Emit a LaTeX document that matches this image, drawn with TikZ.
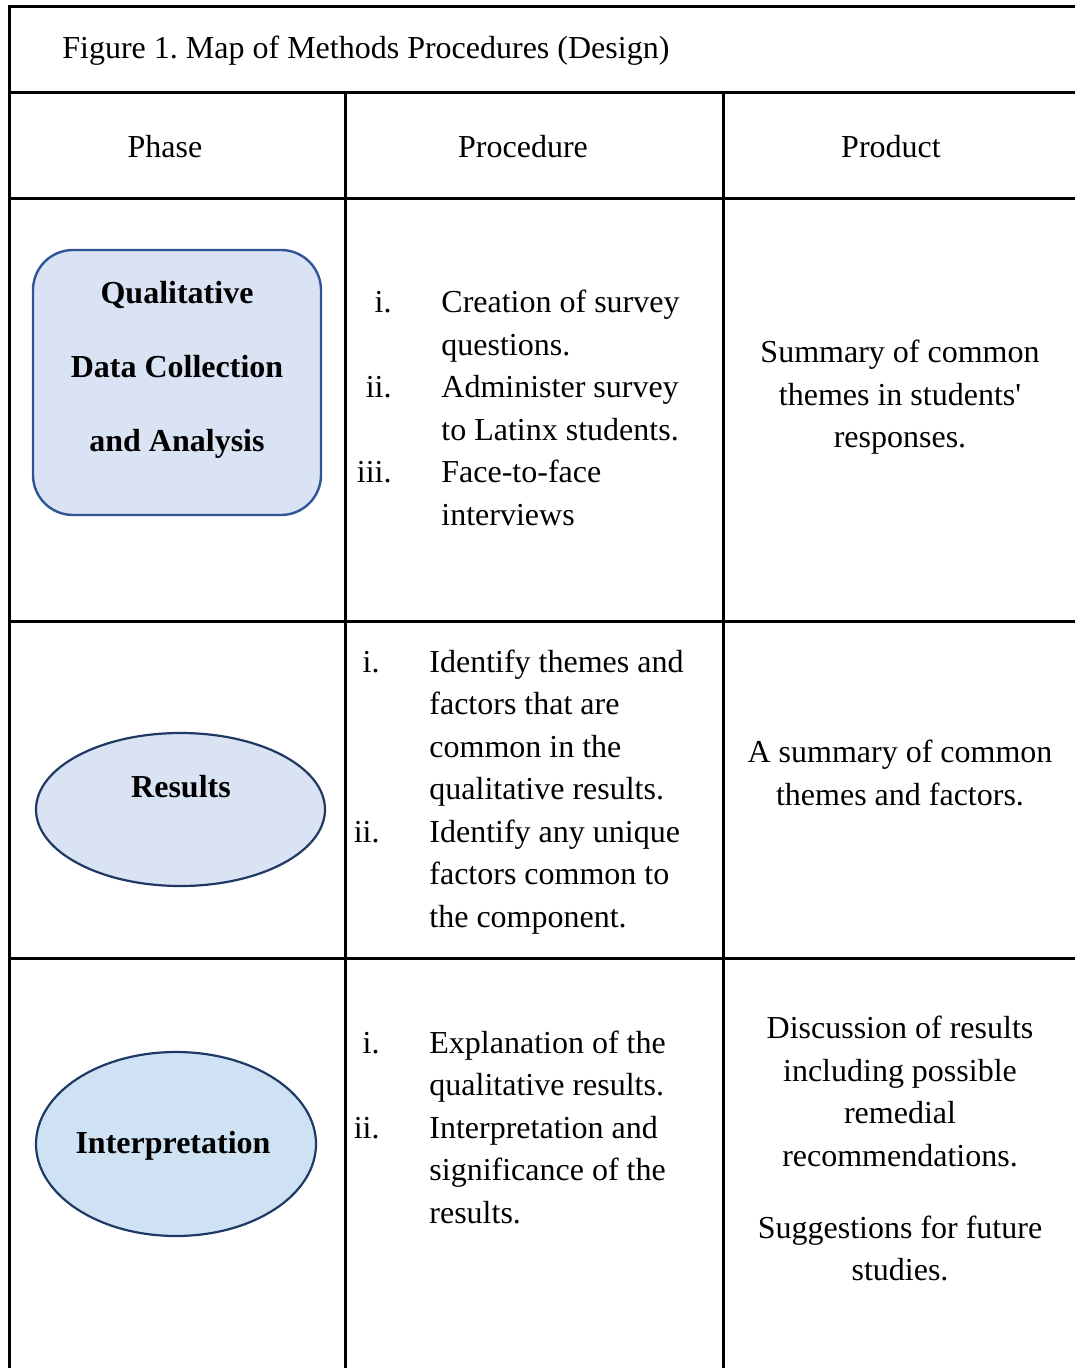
\documentclass[tikz,border=0pt]{standalone}
\usepackage{fontspec}
\setmainfont{Liberation Serif}
\usetikzlibrary{shapes.geometric}
\definecolor{phasefill}{HTML}{DAE3F3}
\definecolor{interpfill}{HTML}{CFE2F3}
\definecolor{phaseline}{HTML}{2F5597}
\definecolor{ellline}{HTML}{203864}
\frenchspacing

\begin{document}
\begin{tikzpicture}
  [x=0.5pt,y=-0.5pt,
   font=\fontsize{16}{21.25}\selectfont]
  \tikzstyle{grid_style} = [draw=black, line width=1.5pt]
  \tikzstyle{txt} = [inner sep=0, anchor=base west, align=left]
  \tikzstyle{ctxt} = [inner sep=0, anchor=base, align=center]
  \tikzstyle{num} = [inner sep=0, anchor=base east]
  \useasboundingbox (0,0) rectangle (1075,1368);
  % table rules
  \draw[grid_style] (9,1368) -- (9,7) -- (1075,7);
  \draw[grid_style] (9,93) -- (1075,93);
  \draw[grid_style] (9,199) -- (1075,199);
  \draw[grid_style] (9,621) -- (1075,621);
  \draw[grid_style] (9,958) -- (1075,958);
  \draw[grid_style] (345,93) -- (345,1368);
  \draw[grid_style] (723,93) -- (723,1368);
  % title and headers
  \node[txt] (title) at (62,58.5) {Figure 1. Map of Methods Procedures (Design)};
  \node[ctxt] (hphase) at (165,158) {Phase};
  \node[ctxt] (hproc) at (523,158) {Procedure};
  \node[ctxt] (hprod) at (891,158) {Product};
  % phase shapes (base anchor sits on the last line)
  \node[draw=phaseline, fill=phasefill, line width=1.2pt, rounded corners=20pt,
        minimum width=144pt, minimum height=132.5pt] (qual) at (177,382.5) {};
  \node[ctxt, font=\fontsize{16}{37}\selectfont\bfseries] (qualtxt) at (177,452)
    {Qualitative\\Data Collection\\and Analysis};
  \node[draw=ellline, fill=phasefill, line width=1.1pt, ellipse, inner sep=0,
        minimum width=144.5pt, minimum height=76.5pt] (res) at (180.5,809.5) {};
  \node[ctxt, font=\fontsize{16}{21.25}\selectfont\bfseries] (restxt) at (181,797) {Results};
  \node[draw=ellline, fill=interpfill, line width=1.1pt, ellipse, inner sep=0,
        minimum width=140pt, minimum height=92pt] (interp) at (176,1144) {};
  \node[ctxt, font=\fontsize{16}{21.25}\selectfont\bfseries] (interptxt) at (173,1153) {Interpretation};
  % procedures
  \node[num] (p1i) at (392,313) {i.};
  \node[txt] (p1a) at (441,355.5) {Creation of survey\\questions.};
  \node[num] (p1ii) at (392,398) {ii.};
  \node[txt] (p1b) at (441,440.5) {Administer survey\\to Latinx students.};
  \node[num] (p1iii) at (392,483) {iii.};
  \node[txt] (p1c) at (441,525.5) {Face-to-face\\interviews};
  \node[num] (p2i) at (380,672) {i.};
  \node[txt] (p2a) at (429,799.5) {Identify themes and\\factors that are\\common in the\\qualitative results.};
  \node[num] (p2ii) at (380,842) {ii.};
  \node[txt] (p2b) at (429,927) {Identify any unique\\factors common to\\the component.};
  \node[num] (p3i) at (380,1053) {i.};
  \node[txt] (p3a) at (429,1095.5) {Explanation of the\\qualitative results.};
  \node[num] (p3ii) at (380,1138) {ii.};
  \node[txt] (p3b) at (429,1223) {Interpretation and\\significance of the\\results.};
  % products
  \node[ctxt] (prod1) at (900,448) {Summary of common\\themes in students\textquotesingle\\responses.};
  \node[ctxt] (prod2) at (900,805) {A summary of common\\themes and factors.};
  \node[ctxt] (prod3a) at (900,1166) {Discussion of results\\including possible\\remedial\\recommendations.};
  \node[ctxt] (prod3b) at (900,1280.5) {Suggestions for future\\studies.};
\end{tikzpicture}
\end{document}
